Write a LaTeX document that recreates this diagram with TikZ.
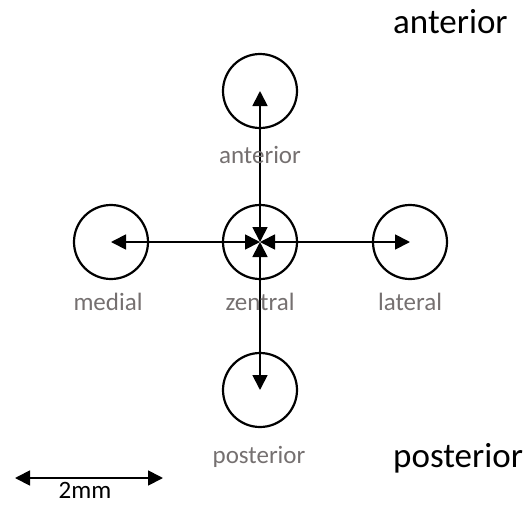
\documentclass[tikz,border=0pt]{standalone}
\usepackage{fontspec}
\setmainfont{Carlito}
\usetikzlibrary{arrows.meta}

\definecolor{lblgray}{rgb}{0.46,0.44,0.44}

\tikzset{
  spot/.style={draw, circle, line width=2.2pt, minimum size=74pt, inner sep=0pt},
  lbl/.style={text=lblgray, font=\fontsize{25}{28}\selectfont, anchor=base, inner sep=0pt},
  side/.style={font=\fontsize{35}{40}\selectfont, anchor=base west, inner sep=0pt},
  dir/.style={line width=1.8pt, {Triangle[length=15pt,width=15pt]}-{Triangle[length=15pt,width=15pt]}}
}

\begin{document}
\begin{tikzpicture}[x=1pt,y=-1pt]
			\useasboundingbox (0,0) rectangle (528,504);
			\node[spot] (zen) at (260,242) {};
			\node[spot] (ant) at (260,91) {};
			\node[spot] (post) at (260,390) {};
			\node[spot] (med) at (111,242) {};
			\node[spot] (lat) at (410,242) {};
			\draw[dir] (zen.center) -- (ant.center);
			\draw[dir] (zen.center) -- (post.center);
			\draw[dir] (zen.center) -- (med.center);
			\draw[dir] (zen.center) -- (lat.center);
			\node[lbl] (antlbl) at (260,163) {anterior};
			\node[lbl] (medlbl) at (108,310) {medial};
			\node[lbl] (zenlbl) at (260,310) {zentral};
			\node[lbl] (latlbl) at (410,310) {lateral};
			\node[lbl] (postlbl) at (259,463) {posterior};
			\node[side] (top) at (393,33) {anterior};
			\node[side] (bottom) at (393,467) {posterior};
			% scale bar
			\coordinate (barl) at (15,478);
			\coordinate (barr) at (163,478);
			\draw[dir] (barl) -- (barr);
			\node[anchor=base, inner sep=0pt, font=\fontsize{25}{28}\selectfont] (barlbl) at (85,498) {2mm};
		\end{tikzpicture}
\end{document}
